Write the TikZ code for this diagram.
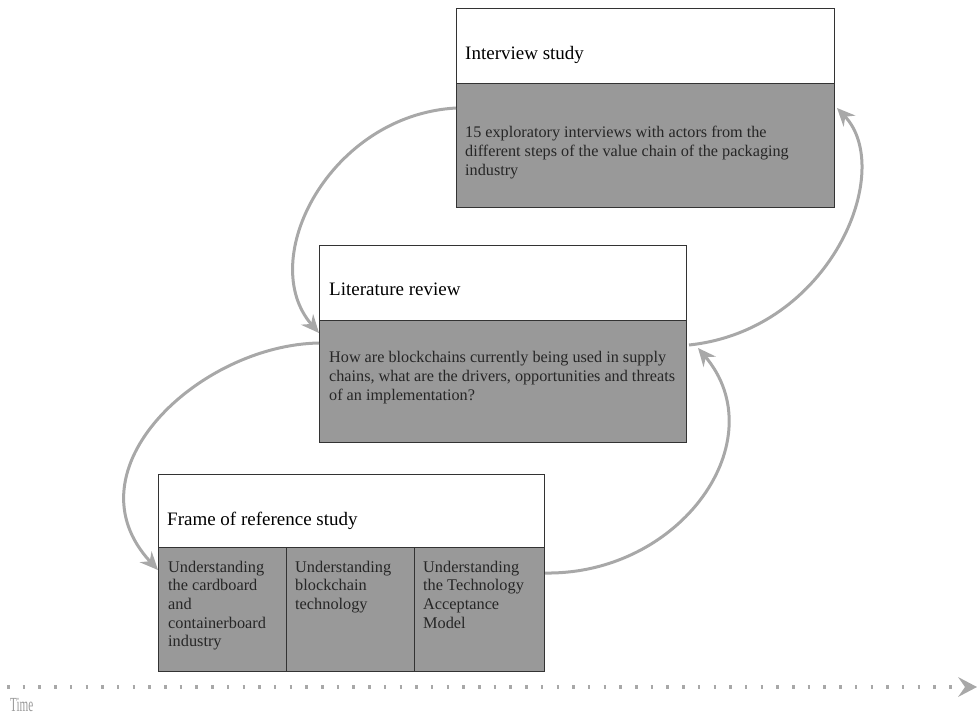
\documentclass[tikz,border=0pt]{standalone}
\usepackage{fontspec}
\setmainfont{Liberation Serif}
\usetikzlibrary{arrows.meta,calc}
\definecolor{panelfill}{HTML}{999999}
\definecolor{edge}{HTML}{333333}
\definecolor{flow}{HTML}{A8A8A8}
\definecolor{ink}{HTML}{262626}
\definecolor{timeink}{HTML}{9A9A9A}
\begin{document}
\begin{tikzpicture}[x=1pt,y=-1pt,
  headbox/.style={draw=edge, fill=white, line width=1pt, inner sep=0pt, anchor=north west},
  bodybox/.style={draw=edge, fill=panelfill, line width=1pt, inner sep=0pt, anchor=north west},
  titletext/.style={anchor=base west, inner sep=0pt, text=black, font=\fontsize{19}{22}\selectfont},
  bodytext/.style={anchor=north west, inner sep=0pt, align=left, text=ink, font=\fontsize{16.2}{19}\selectfont},
  coltext/.style={anchor=north west, inner sep=0pt, align=left, text=ink, font=\fontsize{16.3}{18.6}\selectfont},
  flowarrow/.style={draw=flow, line width=3pt, -{Stealth[length=18pt,width=16pt,inset=6pt]}},
  timeline/.style={draw=flow, line width=4.5pt, dash pattern=on 2.5pt off 13.2pt}
]
\useasboundingbox (0,0) rectangle (977,718);

% Interview study
\node[headbox, minimum width=378pt, minimum height=75pt] (ivhead) at (456,8) {};
\node[bodybox, minimum width=378pt, minimum height=124pt] (ivbody) at (456,83) {};
\node[titletext] (ivtitle) at (465,59) {Interview study};
\node[bodytext] (ivtext) at (465,124) {\rule{0pt}{13pt}15 exploratory interviews with actors from the\\different steps of the value chain of the packaging\\industry};

% Literature review
\node[headbox, minimum width=367pt, minimum height=75pt] (lithead) at (319,245) {};
\node[bodybox, minimum width=367pt, minimum height=122pt] (litbody) at (319,320) {};
\node[titletext] (littitle) at (329,295) {Literature review};
\node[bodytext] (littext) at (329,349) {\rule{0pt}{13pt}How are blockchains currently being used in supply\\chains, what are the drivers, opportunities and threats\\of an implementation?};

% Frame of reference study
\node[headbox, minimum width=386pt, minimum height=73pt] (frhead) at (158,474) {};
\node[bodybox, minimum width=128pt, minimum height=124pt] (col1) at (158,547) {};
\node[bodybox, minimum width=128pt, minimum height=124pt] (col2) at (286,547) {};
\node[bodybox, minimum width=130pt, minimum height=124pt] (col3) at (414,547) {};
\node[titletext] (frtitle) at (167,525) {Frame of reference study};
\node[coltext] (c1text) at (168,559) {\rule{0pt}{13pt}Understanding\\the cardboard\\and\\containerboard\\industry};
\node[coltext] (c2text) at (295,559) {\rule{0pt}{13pt}Understanding\\blockchain\\technology};
\node[coltext] (c3text) at (423,559) {\rule{0pt}{13pt}Understanding\\the Technology\\Acceptance\\Model};

% Iteration arrows between the studies
\draw[flowarrow] ($(ivbody.north west)+(0,25)$) .. controls +(-126,7) and +(-64,-73) .. ($(litbody.north west)+(0,13)$);
\draw[flowarrow] ($(litbody.north west)+(0,23)$) .. controls +(-119,2) and +(-93,-100) .. ($(col1.north west)+(0,23)$);
\draw[flowarrow] ($(col3.north east)+(0,26)$) .. controls +(136,2) and +(78,92) .. ($(litbody.north east)+(11,28)$);
\draw[flowarrow] ($(litbody.north east)+(2,25)$) .. controls +(142,-15) and +(59,62) .. ($(ivbody.north east)+(2,25)$);

% Time axis
\coordinate (tstart) at (7,687);
\coordinate (tend) at (961,687);
\draw[timeline] (tstart) -- (tend);
\fill[flow] ($(tend)+(-3,-10)$) -- ($(tend)+(16,0)$) -- ($(tend)+(-3,10)$) -- ($(tend)+(4,0)$) -- cycle;
\node[anchor=west, inner sep=0pt, text=timeink, font=\fontsize{20}{22}\selectfont, xscale=0.56, transform shape] (timelabel) at (10,705) {Time};
\end{tikzpicture}
\end{document}
